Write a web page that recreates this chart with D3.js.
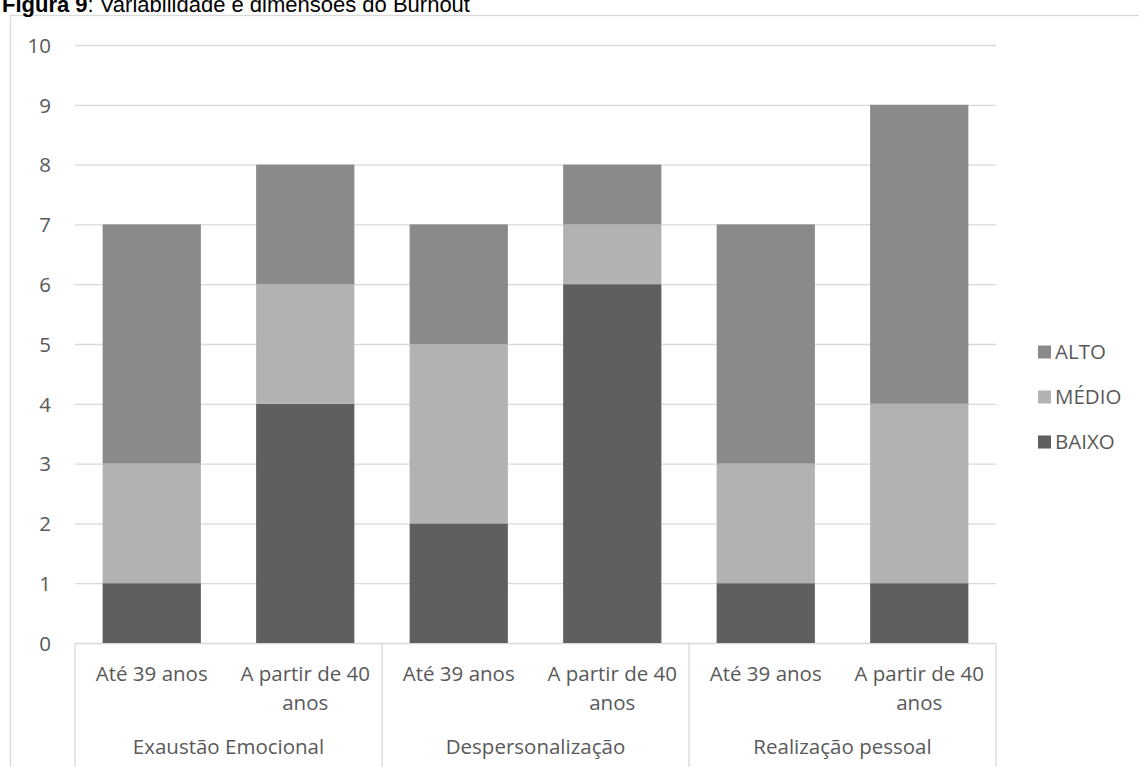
<!DOCTYPE html>
<html>
<head>
<meta charset="utf-8">
<script src="https://cdn.jsdelivr.net/npm/d3@7"></script>
<style>
  html, body { margin: 0; padding: 0; background: #fff; overflow: hidden; }
  svg { display: block; }
</style>
</head>
<body>
<svg id="chart" width="1139" height="767"></svg>
<script>
// ---- Data ----
const groups = ["Exaustão Emocional", "Despersonalização", "Realização pessoal"];
const ageLabels = [["Até 39 anos"], ["A partir de 40", "anos"]];
const seriesNames = ["BAIXO", "MÉDIO", "ALTO"];
const baixo = [1, 4, 2, 6, 1, 1];
const medio = [2, 2, 3, 1, 2, 3];
const alto  = [4, 2, 2, 1, 4, 5];
const yTicks = [0, 1, 2, 3, 4, 5, 6, 7, 8, 9, 10];
const colors = { "BAIXO": "#5f5f5f", "MÉDIO": "#b2b2b2", "ALTO": "#8a8a8a" };

// ---- Build table ----
const cats = [];
groups.forEach((g, gi) => ageLabels.forEach((a, ai) => cats.push({ id: gi * 2 + ai, group: g, label: a })));
const rows = cats.map((c, i) => ({ id: c.id, "BAIXO": baixo[i], "MÉDIO": medio[i], "ALTO": alto[i] }));
const stacked = d3.stack().keys(seriesNames)(rows);

const svg = d3.select("#chart");
const font = "'Open Sans', sans-serif";
const textColor = "#595959";
const gridColor = "#d9d9d9";
const fs = 20.5;

const plotLeft = 75, plotRight = 996, plotTop = 45, plotBottom = 643;

const x = d3.scaleBand().domain(cats.map(c => c.id)).range([plotLeft, plotRight]).paddingInner(0.36).paddingOuter(0.18);
const xCat = d3.scaleBand().domain(cats.map(c => c.id)).range([plotLeft, plotRight]);
const xGroup = d3.scaleBand().domain(groups).range([plotLeft, plotRight]);
const y = d3.scaleLinear().domain([0, 10]).range([plotBottom, plotTop]);

// Outer frame
svg.append("rect")
  .attr("x", 10.5).attr("y", 15.5)
  .attr("width", 1200).attr("height", 800)
  .attr("fill", "none").attr("stroke", gridColor).attr("stroke-width", 1.3);

// Title
const title = svg.append("text")
  .attr("x", 2).attr("y", 12)
  .attr("font-family", "'Liberation Sans', Arial, sans-serif")
  .attr("font-size", 22).attr("fill", "#000");
title.append("tspan").attr("font-weight", "bold").text("Figura 9");
title.append("tspan").text(": Variabilidade e dimensões do Burnout");

// Gridlines + y labels
const yAxis = d3.axisLeft(y).tickValues(yTicks).tickSize(-(plotRight - plotLeft)).tickPadding(24).tickFormat(d3.format("d"));
const gy = svg.append("g").attr("transform", `translate(${plotLeft},0)`).call(yAxis);
gy.select(".domain").remove();
gy.selectAll(".tick line").attr("stroke", gridColor).attr("stroke-width", 1.3);
gy.selectAll(".tick text")
  .attr("fill", textColor).attr("font-family", font).attr("font-size", fs)
  .attr("dy", "0.36em");

// Bars
svg.append("g").selectAll("g")
  .data(stacked).join("g")
  .attr("fill", d => colors[d.key])
  .selectAll("rect")
  .data(d => d).join("rect")
  .attr("x", d => x(d.data.id))
  .attr("width", x.bandwidth())
  .attr("y", d => y(d[1]))
  .attr("height", d => y(d[0]) - y(d[1]));

// Category axis: separators
const sepX = groups.map(g => xGroup(g)).concat([plotRight]);
svg.append("g").selectAll("line")
  .data(sepX).join("line")
  .attr("x1", d => d).attr("x2", d => d)
  .attr("y1", plotBottom).attr("y2", 800)
  .attr("stroke", gridColor).attr("stroke-width", 1.3);

// Category labels
const catG = svg.append("g").attr("font-family", font).attr("font-size", fs).attr("fill", textColor).attr("text-anchor", "middle");
cats.forEach(c => {
  const cx = xCat(c.id) + xCat.bandwidth() / 2;
  c.label.forEach((line, li) => {
    catG.append("text").attr("x", cx).attr("y", 681 + li * 29).text(line);
  });
});
groups.forEach(g => {
  catG.append("text").attr("x", xGroup(g) + xGroup.bandwidth() / 2).attr("y", 754).text(g);
});

// Legend
const legendOrder = ["ALTO", "MÉDIO", "BAIXO"];
const legY = d3.scalePoint().domain(legendOrder).range([352, 442]);
const leg = svg.append("g").attr("font-family", font).attr("font-size", fs).attr("fill", textColor);
legendOrder.forEach(k => {
  leg.append("rect").attr("x", 1038).attr("y", legY(k) - 6.5).attr("width", 13).attr("height", 13).attr("fill", colors[k]);
  leg.append("text").attr("x", 1055).attr("y", legY(k)).attr("dy", "0.36em").text(k);
});
</script>
</body>
</html>
